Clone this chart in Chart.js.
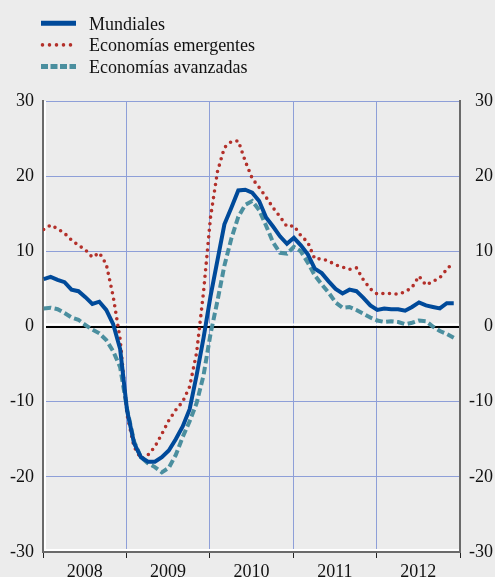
<!DOCTYPE html>
<html>
<head>
    <meta charset="utf-8" />
    <title>Grafico</title>
    <script src="https://cdn.jsdelivr.net/npm/chart.js"></script>
    <style>
        body { margin: 0; background: #ececec; }
    </style>
</head>
<body>
    <canvas id="myChart" width="495" height="577"></canvas>

    <script>
        // datos mensuales ene-2008 .. dic-2012
        const anios = ['2008', '2009', '2010', '2011', '2012'];
        const ticksY = [-30, -20, -10, 0, 10, 20, 30];

        const mundiales = [
            6.3, 6.6, 6.2, 5.9, 4.9, 4.7, 3.9, 3.0, 3.3, 2.2, 0.3, -3.0,
            -11.2, -15.5, -17.4, -18.0, -18.0, -17.4, -16.5, -15.0, -13.3, -11.0, -6.5, -1.5,
            4.0, 8.8, 13.6, 15.8, 18.1, 18.2, 17.8, 16.7, 14.5, 13.3, 12.0, 11.0,
            11.8, 10.8, 9.6, 7.7, 7.1, 6.0, 5.0, 4.4, 4.9, 4.7, 3.8, 2.8,
            2.2, 2.4, 2.3, 2.3, 2.1, 2.6, 3.2, 2.8, 2.6, 2.4, 3.1, 3.1
        ];
        const emergentes = [
            12.9, 13.5, 13.0, 12.4, 11.5, 10.8, 10.2, 9.2, 9.8, 8.3, 4.0, -1.7,
            -11.8, -16.0, -17.6, -17.1, -16.0, -14.3, -12.5, -11.1, -10.0, -8.0, -3.5, 4.6,
            14.5, 20.6, 23.8, 24.6, 24.7, 22.0, 19.7, 18.5, 17.2, 15.8, 14.6, 13.3,
            13.4, 12.1, 11.2, 9.0, 9.0, 8.7, 8.2, 7.9, 7.6, 7.8, 6.2, 5.0,
            4.3, 4.4, 4.4, 4.3, 4.6, 5.2, 6.7, 5.5, 6.0, 6.5, 7.6, 8.6
        ];
        const avanzadas = [
            2.4, 2.5, 2.3, 1.8, 1.2, 0.9, 0.2, -0.4, -0.9, -1.8, -3.3, -5.4,
            -11.0, -15.3, -17.4, -18.2, -18.7, -19.4, -18.8, -17.1, -14.7, -12.6, -10.2, -6.5,
            -1.0, 3.4, 8.1, 11.7, 14.6, 16.2, 16.7, 15.5, 13.4, 11.2, 9.8, 9.7,
            10.6, 10.0, 8.5, 6.8, 5.6, 4.5, 3.2, 2.5, 2.6, 2.2, 1.7, 1.2,
            0.8, 0.6, 0.7, 0.6, 0.3, 0.5, 0.8, 0.7, 0.0, -0.6, -1.0, -1.5
        ];

        const azul = '#004a9a';
        const rojo = '#b3302a';
        const verde = '#4b8f9f';
        const rejilla = '#8e9fd8';
        const fuente = { family: 'Liberation Serif', size: 18 };

        function puntos(serie) {
            return serie.map((v, i) => ({ x: i + 0.1, y: v }));
        }

        // leyenda dibujada a mano, una por fila + linea blanca sobre el cero
        const leyenda = {
            id: 'leyenda',
            beforeDatasetsDraw(chart) {
                const ctx = chart.ctx;
                const a = chart.chartArea;
                const y0 = chart.scales.y.getPixelForValue(0);
                ctx.save();
                ctx.strokeStyle = '#fff';
                ctx.lineWidth = 2;
                ctx.beginPath();
                ctx.moveTo(a.left + 1, y0 - 2);
                ctx.lineTo(a.right - 1, y0 - 2);
                ctx.moveTo(a.left + 2, a.top);
                ctx.lineTo(a.left + 2, a.bottom - 1);
                ctx.moveTo(a.left + 1, a.bottom - 2);
                ctx.lineTo(a.right - 1, a.bottom - 2);
                ctx.stroke();
                ctx.restore();
            },
            afterDraw(chart) {
                const ctx = chart.ctx;
                chart.data.datasets.forEach((ds, k) => {
                    const base = 29.5 + k * 21.7;
                    const yl = base - 6.3;
                    ctx.save();
                    ctx.strokeStyle = ds.borderColor;
                    ctx.lineWidth = ds.legendWidth;
                    ctx.lineCap = ds.borderCapStyle || 'butt';
                    ctx.setLineDash(ds.legendDash);
                    ctx.beginPath();
                    ctx.moveTo(41 + (ds.legendStart || 0), yl);
                    ctx.lineTo(76, yl);
                    ctx.stroke();
                    ctx.setLineDash([]);
                    ctx.fillStyle = '#111';
                    ctx.font = '18px "Liberation Serif"';
                    ctx.textBaseline = 'alphabetic';
                    ctx.fillText(ds.label, 89, base);
                    ctx.restore();
                });
            }
        };

        const data = {
            datasets: [{
                label: 'Mundiales',
                data: puntos(mundiales),
                borderColor: azul,
                borderWidth: 4,
                legendWidth: 5,
                legendDash: []
            }, {
                label: 'Economías emergentes',
                data: puntos(emergentes),
                borderColor: rojo,
                borderWidth: 3.6,
                borderDash: [0, 6.6],
                borderCapStyle: 'round',
                legendWidth: 3.6,
                legendDash: [0, 7],
                legendStart: 1.5
            }, {
                label: 'Economías avanzadas',
                data: puntos(avanzadas),
                borderColor: verde,
                borderWidth: 4,
                borderDash: [7.5, 3.5],
                legendWidth: 5,
                legendDash: [7, 2.5]
            }]
        };

        const config = {
            type: 'line',
            data,
            plugins: [leyenda],
            options: {
                responsive: false,
                animation: false,
                devicePixelRatio: 1,
                layout: { padding: { top: 101, left: 0, right: 2, bottom: 0 } },
                elements: { point: { radius: 0 }, line: { tension: 0 } },
                plugins: { legend: { display: false }, tooltip: { enabled: false } },
                scales: {
                    x: {
                        type: 'linear',
                        min: 0,
                        max: 60,
                        afterBuildTicks: s => {
                            const t = [];
                            anios.forEach((a, k) => { t.push({ value: k * 12 }); t.push({ value: k * 12 + 6 }); });
                            t.push({ value: anios.length * 12 });
                            s.ticks = t;
                        },
                        afterFit: s => { s.height = 25; },
                        ticks: {
                            autoSkip: false,
                            maxRotation: 0,
                            padding: 3,
                            color: '#111',
                            font: fuente,
                            callback: v => (v % 12 === 6 ? anios[(v - 6) / 12] : '')
                        },
                        grid: {
                            color: c => (c.tick && c.tick.value % 12 === 0 ? rejilla : 'rgba(0,0,0,0)'),
                            tickColor: c => (c.tick && c.tick.value % 12 === 0 ? '#222' : 'rgba(0,0,0,0)'),
                            tickLength: 6,
                            lineWidth: 1
                        },
                        border: { color: '#6a6a6a', width: 2 }
                    },
                    y: {
                        position: 'left',
                        min: -30,
                        max: 30,
                        afterBuildTicks: s => { s.ticks = ticksY.map(v => ({ value: v })); },
                        afterFit: s => { s.width = 43; },
                        ticks: { padding: 9, color: '#111', font: fuente },
                        grid: {
                            drawTicks: false,
                            color: c => (c.tick && c.tick.value === 0 ? '#000' : rejilla),
                            lineWidth: c => (c.tick && c.tick.value === 0 ? 2 : 1)
                        },
                        border: { color: '#6a6a6a', width: 2 }
                    },
                    y2: {
                        position: 'right',
                        min: -30,
                        max: 30,
                        afterBuildTicks: s => { s.ticks = ticksY.map(v => ({ value: v })); },
                        afterFit: s => { s.width = 33; },
                        ticks: { padding: 9, color: '#111', font: fuente, crossAlign: 'far' },
                        grid: { drawOnChartArea: false, drawTicks: false },
                        border: { color: '#6a6a6a', width: 2 }
                    }
                }
            }
        };

        var myChart = new Chart(
            document.getElementById('myChart'),
            config
        );
    </script>
</body>
</html>
